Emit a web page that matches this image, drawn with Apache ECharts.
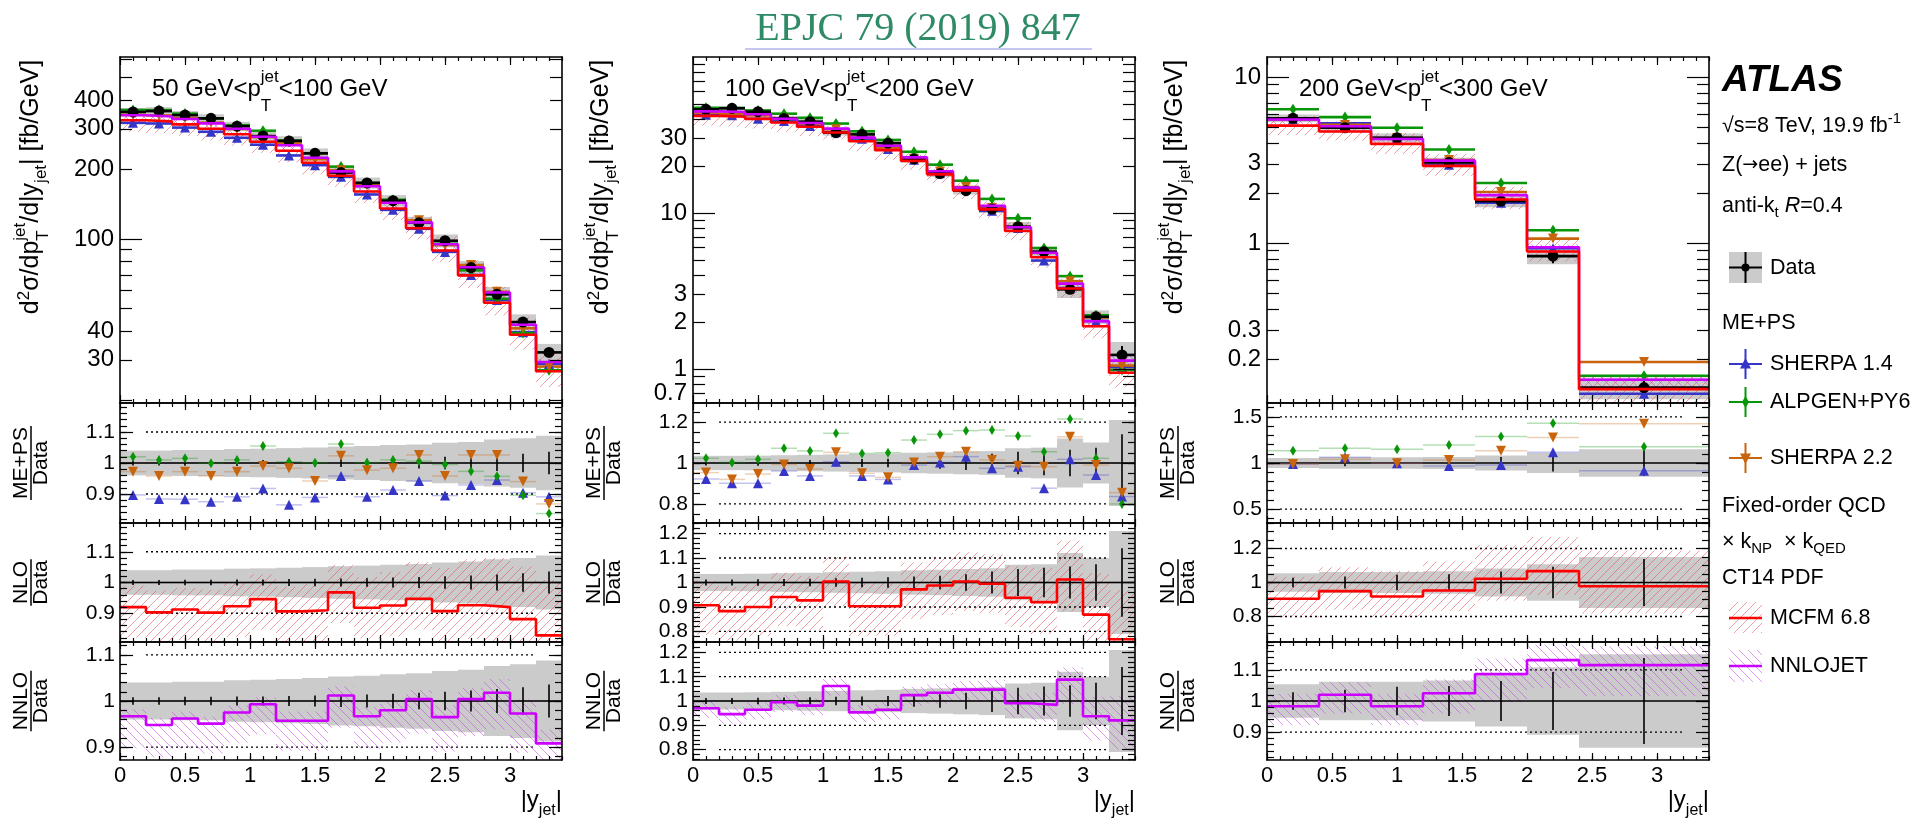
<!DOCTYPE html>
<html>
<head>
<meta charset="utf-8">
<title>Z(→ee) + jets: jet rapidity in bins of jet pT</title>
<script src="https://cdn.jsdelivr.net/npm/echarts@6.0.0/dist/echarts.min.js"></script>
<style>
  html, body { margin: 0; padding: 0; background: #fff; }
  #chart { width: 1917px; height: 820px; }
</style>
</head>
<body>
<div id="chart"></div>
<script>
// ---------------- binning in |y_jet| ----------------
const edgesFine = [0, 0.2, 0.4, 0.6, 0.8, 1.0, 1.2, 1.4, 1.6, 1.8, 2.0, 2.2, 2.4, 2.6, 2.8, 3.0, 3.2, 3.4];
const edgesWide = [0, 0.4, 0.8, 1.2, 1.6, 2.0, 2.4, 3.4];
const xTickLabels = [0, 0.5, 1, 1.5, 2, 2.5, 3];

// ---------------- 50 GeV < pT < 100 GeV ----------------
const a_data     = [355, 358, 344, 333, 308, 279, 266, 235, 194, 175, 146.5, 117.6, 98.3, 75.2, 57.6, 43.7, 32.3];
const a_sys      = [0.040, 0.040, 0.042, 0.042, 0.045, 0.046, 0.048, 0.050, 0.053, 0.055, 0.058, 0.060, 0.065, 0.068, 0.076, 0.080, 0.088];
const a_stat     = [0.008, 0.008, 0.009, 0.009, 0.010, 0.010, 0.011, 0.012, 0.013, 0.014, 0.016, 0.018, 0.020, 0.023, 0.026, 0.030, 0.036];
const a_sherpa14 = [0.897, 0.884, 0.883, 0.875, 0.891, 0.918, 0.865, 0.889, 0.958, 0.891, 0.913, 0.942, 0.895, 0.929, 0.945, 0.904, 0.891];
const a_alpgen   = [1.020, 1.010, 1.015, 0.999, 1.010, 1.055, 1.004, 1.001, 1.061, 1.001, 1.010, 1.006, 0.995, 0.973, 0.957, 0.896, 0.837];
const a_sherpa22 = [0.972, 0.958, 0.972, 0.958, 0.972, 0.990, 0.983, 0.942, 1.023, 0.977, 0.983, 1.026, 0.958, 1.026, 1.026, 0.940, 0.868];
const a_mcfm     = [0.920, 0.903, 0.912, 0.902, 0.923, 0.946, 0.906, 0.910, 0.968, 0.918, 0.925, 0.947, 0.907, 0.926, 0.920, 0.881, 0.828];
const a_mcfmUp   = [0.07, 0.07, 0.07, 0.075, 0.075, 0.08, 0.08, 0.085, 0.09, 0.10, 0.11, 0.12, 0.14, 0.15, 0.16, 0.17, 0.18];
const a_mcfmDn   = [0.10, 0.10, 0.10, 0.10, 0.10, 0.10, 0.10, 0.10, 0.10, 0.10, 0.10, 0.10, 0.10, 0.11, 0.11, 0.12, 0.12];
const a_nnlojet  = [0.967, 0.948, 0.962, 0.951, 0.975, 0.993, 0.957, 0.957, 1.012, 0.967, 0.980, 1.004, 0.965, 1.004, 1.018, 0.973, 0.908];
const a_nnloUp   = [0.015, 0.015, 0.015, 0.015, 0.015, 0.015, 0.02, 0.02, 0.02, 0.02, 0.02, 0.02, 0.025, 0.025, 0.03, 0.03, 0.03];
const a_nnloDn   = [0.07, 0.07, 0.065, 0.065, 0.065, 0.065, 0.065, 0.065, 0.07, 0.07, 0.07, 0.075, 0.075, 0.08, 0.08, 0.085, 0.09];
const a_topLabels = [30, 40, 100, 200, 300, 400];

// ---------------- 100 GeV < pT < 200 GeV ----------------
const b_data     = [46.2, 46.9, 44.6, 40.4, 38.5, 32.7, 31.9, 28.0, 22.2, 17.9, 13.9, 10.6, 8.17, 5.65, 3.24, 2.16, 1.23];
const b_sys      = [0.035, 0.035, 0.036, 0.038, 0.040, 0.042, 0.044, 0.046, 0.050, 0.052, 0.055, 0.058, 0.072, 0.075, 0.12, 0.10, 0.21];
const b_stat     = [0.012, 0.012, 0.013, 0.014, 0.015, 0.017, 0.019, 0.021, 0.024, 0.028, 0.034, 0.045, 0.055, 0.060, 0.065, 0.075, 0.14];
const b_sherpa14 = [0.922, 0.901, 0.901, 0.961, 0.937, 1.006, 0.937, 0.920, 0.990, 1.003, 1.031, 0.974, 0.982, 0.877, 1.018, 0.941, 0.836];
const b_alpgen   = [1.023, 1.003, 1.018, 1.072, 1.059, 1.145, 1.047, 1.050, 1.112, 1.140, 1.158, 1.161, 1.132, 1.055, 1.215, 1.023, 0.800];
const b_sherpa22 = [0.953, 0.920, 0.946, 0.993, 0.971, 1.052, 0.950, 0.930, 1.002, 1.031, 1.055, 1.015, 0.987, 0.982, 1.128, 0.990, 0.855];
const b_mcfm     = [0.907, 0.883, 0.900, 0.941, 0.927, 1.004, 0.903, 0.903, 0.972, 0.988, 1.004, 0.995, 0.938, 0.920, 1.012, 0.869, 0.768];
const b_mcfmUp   = [0.10, 0.10, 0.10, 0.10, 0.10, 0.10, 0.10, 0.10, 0.11, 0.11, 0.12, 0.12, 0.13, 0.14, 0.16, 0.17, 0.20];
const b_mcfmDn   = [0.12, 0.12, 0.12, 0.12, 0.12, 0.10, 0.12, 0.12, 0.12, 0.12, 0.12, 0.12, 0.12, 0.13, 0.13, 0.14, 0.15];
const b_nnlojet  = [0.970, 0.946, 0.964, 0.995, 0.981, 1.062, 0.953, 0.964, 1.024, 1.034, 1.047, 1.047, 0.991, 0.984, 1.088, 0.937, 0.920];
const b_nnloUp   = [0.03, 0.03, 0.03, 0.03, 0.03, 0.03, 0.03, 0.03, 0.035, 0.035, 0.035, 0.04, 0.04, 0.05, 0.05, 0.08, 0.10];
const b_nnloDn   = [0.04, 0.04, 0.04, 0.04, 0.04, 0.04, 0.04, 0.04, 0.045, 0.045, 0.05, 0.05, 0.06, 0.07, 0.10, 0.10, 0.12];
const b_topLabels = [0.7, 1, 2, 3, 10, 20, 30];

// ---------------- 200 GeV < pT < 300 GeV ----------------
const c_data     = [5.64, 4.95, 4.31, 3.06, 1.79, 0.835, 0.135];
const c_sys      = [0.054, 0.062, 0.062, 0.066, 0.082, 0.108, 0.150];
const c_stat     = [0.028, 0.036, 0.046, 0.048, 0.064, 0.093, 0.138];
const c_sherpa14 = [0.989, 1.062, 0.996, 0.967, 0.978, 1.116, 0.917];
const c_alpgen   = [1.134, 1.159, 1.149, 1.196, 1.286, 1.431, 1.177];
const c_sherpa22 = [0.989, 1.040, 0.996, 1.033, 1.134, 1.275, 1.424];
const c_mcfm     = [0.904, 0.949, 0.918, 0.953, 1.022, 1.067, 0.978];
const c_mcfmUp   = [0.13, 0.14, 0.15, 0.17, 0.20, 0.20, 0.21];
const c_mcfmDn   = [0.11, 0.11, 0.12, 0.12, 0.13, 0.14, 0.16];
const c_nnlojet  = [0.983, 1.020, 0.983, 1.025, 1.086, 1.131, 1.115];
const c_nnloUp   = [0.04, 0.04, 0.04, 0.045, 0.05, 0.05, 0.06];
const c_nnloDn   = [0.06, 0.06, 0.06, 0.065, 0.09, 0.09, 0.10];
const c_topLabels = [0.2, 0.3, 1, 2, 3, 10];

// ---------------- styling ----------------
const FAM = '"Liberation Sans", Arial, sans-serif';
const COL = {
  data: '#000000', band: '#cbcbcb',
  sherpa14: '#3535c8', alpgen: '#089608', sherpa22: '#c8640c',
  mcfm: '#ff0000', nnlo: '#cc00ff'
};

function hatch(color, dir) {
  const s = 9, cv = document.createElement('canvas');
  cv.width = s; cv.height = s;
  const g = cv.getContext('2d');
  g.strokeStyle = color; g.lineWidth = 1;
  g.beginPath();
  if (dir > 0) {           // "/" hatching
    g.moveTo(-1, s + 1); g.lineTo(s + 1, -1);
    g.moveTo(-2, 2); g.lineTo(2, -2);
    g.moveTo(s - 2, s + 2); g.lineTo(s + 2, s - 2);
  } else {                 // "\" hatching
    g.moveTo(-1, -1); g.lineTo(s + 1, s + 1);
    g.moveTo(s - 2, -2); g.lineTo(s + 2, 2);
    g.moveTo(-2, s - 2); g.lineTo(2, s + 2);
  }
  g.stroke();
  return { image: cv, repeat: 'repeat' };
}
const HATCH_MCFM = hatch('rgba(225,80,80,0.55)', 1);
const HATCH_NNLO = hatch('rgba(195,70,230,0.55)', -1);

// ---------------- panels ----------------
const panels = [
  { edges: edgesFine, data: a_data, sys: a_sys, stat: a_stat,
    sherpa14: a_sherpa14, alpgen: a_alpgen, sherpa22: a_sherpa22,
    mcfm: a_mcfm, mcfmUp: a_mcfmUp, mcfmDn: a_mcfmDn,
    nnlo: a_nnlojet, nnloUp: a_nnloUp, nnloDn: a_nnloDn,
    ptLo: '50', ptHi: '100',
    top: { min: 19.5, max: 614, labels: a_topLabels, long: [100],
           short: [20, 30, 40, 50, 60, 70, 80, 90, 200, 300, 400, 500, 600] },
    ratios: [ { min: 0.8065, max: 1.1935, labels: [0.9, 1, 1.1], step: 0.02 },
              { min: 0.8065, max: 1.1935, labels: [0.9, 1, 1.1], step: 0.02 },
              { min: 0.872, max: 1.128, labels: [0.9, 1, 1.1], step: 0.02 } ],
    left: 120, titleOff: 80, dotFrom: 0.2 },
  { edges: edgesFine, data: b_data, sys: b_sys, stat: b_stat,
    sherpa14: b_sherpa14, alpgen: b_alpgen, sherpa22: b_sherpa22,
    mcfm: b_mcfm, mcfmUp: b_mcfmUp, mcfmDn: b_mcfmDn,
    nnlo: b_nnlojet, nnloUp: b_nnloUp, nnloDn: b_nnloDn,
    ptLo: '100', ptHi: '200',
    top: { min: 0.605, max: 100, labels: b_topLabels, long: [1, 10],
           short: [0.7, 0.8, 0.9, 2, 3, 4, 5, 6, 7, 8, 9, 20, 30, 40, 50, 60, 70, 80, 90] },
    ratios: [ { min: 0.707, max: 1.293, labels: [0.8, 1, 1.2], step: 0.05 },
              { min: 0.757, max: 1.243, labels: [0.8, 0.9, 1, 1.1, 1.2], step: 0.02 },
              { min: 0.757, max: 1.243, labels: [0.8, 0.9, 1, 1.1, 1.2], step: 0.02 } ],
    left: 693, titleOff: 83, dotFrom: 0.2 },
  { edges: edgesWide, data: c_data, sys: c_sys, stat: c_stat,
    sherpa14: c_sherpa14, alpgen: c_alpgen, sherpa22: c_sherpa22,
    mcfm: c_mcfm, mcfmUp: c_mcfmUp, mcfmDn: c_mcfmDn,
    nnlo: c_nnlojet, nnloUp: c_nnloUp, nnloDn: c_nnloDn,
    ptLo: '200', ptHi: '300',
    top: { min: 0.109, max: 13.2, labels: c_topLabels, long: [1, 10],
           short: [0.2, 0.3, 0.4, 0.5, 0.6, 0.7, 0.8, 0.9, 2, 3, 4, 5, 6, 7, 8, 9] },
    ratios: [ { min: 0.35, max: 1.65, labels: [0.5, 1, 1.5], step: 0.1 },
              { min: 0.65, max: 1.35, labels: [0.8, 1, 1.2], step: 0.05 },
              { min: 0.811, max: 1.189, labels: [0.9, 1, 1.1], step: 0.02 } ],
    left: 1267, titleOff: 83, dotFrom: 0.1 }
];
const PAD_W = 442;
const ROW_TOP = [57, 403, 523, 642];
const ROW_H = [346, 120, 119, 118];

function steps(a, b, step) {
  const out = [];
  const k0 = Math.ceil(a / step - 1e-6), k1 = Math.floor(b / step + 1e-6);
  for (let k = k0; k <= k1; k++) out.push(+(k * step).toFixed(4));
  return out;
}
const xMajor = [0, 0.5, 1, 1.5, 2, 2.5, 3];
const xMinor = steps(0.1, 3.4, 0.1);
const fmtNum = v => String(+(+v).toPrecision(4));

// ---------------- axes ----------------
const grids = [], xAxes = [], yAxes = [];
function tickAxis(base, opt) {
  return Object.assign({}, base, {
    axisLine: { show: !!opt.line, onZero: false, lineStyle: { color: '#000', width: 1.6 } },
    axisTick: { show: true, inside: true, length: opt.len, customValues: opt.ticks,
                lineStyle: { color: '#000', width: 1.2 } },
    axisLabel: opt.labels ? {
      show: true, customValues: opt.labels, formatter: fmtNum, color: '#000',
      fontFamily: FAM, fontSize: opt.fontSize, margin: opt.margin, hideOverlap: false,
      showMinLabel: true, showMaxLabel: true
    } : { show: false },
    splitLine: { show: false }, splitArea: { show: false }, minorTick: { show: false },
    minorSplitLine: { show: false }, axisPointer: { show: false }, silent: true, z: 10
  });
}
panels.forEach((P, c) => {
  for (let r = 0; r < 4; r++) {
    const g = c * 4 + r;
    grids.push({ left: P.left, top: ROW_TOP[r], width: PAD_W, height: ROW_H[r], show: false,
                 containLabel: false, outerBoundsMode: 'none' });
    const isTop = r === 0, isBottom = r === 3;
    const xb = { gridIndex: g, type: 'value', min: 0, max: 3.4 };
    const xMaj = isTop ? 8 : 7, xMin = 4;
    xAxes.push(tickAxis(Object.assign({ position: 'bottom' }, xb),
      { line: true, len: xMaj, ticks: xMajor, labels: isBottom ? xTickLabels : null, fontSize: 22, margin: 5 }));
    xAxes.push(tickAxis(Object.assign({ position: 'bottom' }, xb), { len: xMin, ticks: xMinor }));
    xAxes.push(tickAxis(Object.assign({ position: 'top' }, xb), { line: true, len: xMaj, ticks: xMajor }));
    xAxes.push(tickAxis(Object.assign({ position: 'top' }, xb), { len: xMin, ticks: xMinor }));
    if (isTop) {
      const T = P.top;
      const yb = { gridIndex: g, type: 'log', logBase: 10, min: T.min, max: T.max };
      yAxes.push(tickAxis(Object.assign({ position: 'left' }, yb),
        { line: true, len: 22, ticks: T.long, labels: T.labels, fontSize: 24, margin: 6 }));
      yAxes.push(tickAxis(Object.assign({ position: 'left' }, yb), { len: 12, ticks: T.short }));
      yAxes.push(tickAxis(Object.assign({ position: 'right' }, yb), { line: true, len: 22, ticks: T.long }));
      yAxes.push(tickAxis(Object.assign({ position: 'right' }, yb), { len: 12, ticks: T.short }));
    } else {
      const R = P.ratios[r - 1];
      const yb = { gridIndex: g, type: 'value', min: R.min, max: R.max };
      const minor = steps(R.min, R.max, R.step);
      yAxes.push(tickAxis(Object.assign({ position: 'left' }, yb),
        { line: true, len: 13, ticks: R.labels, labels: R.labels, fontSize: 21, margin: 5 }));
      yAxes.push(tickAxis(Object.assign({ position: 'left' }, yb), { len: 7, ticks: minor }));
      yAxes.push(tickAxis(Object.assign({ position: 'right' }, yb), { line: true, len: 13, ticks: R.labels }));
      yAxes.push(tickAxis(Object.assign({ position: 'right' }, yb), { len: 7, ticks: minor }));
    }
  }
});

// ---------------- series helpers ----------------
function clipTo(rect, cs) {
  return echarts.graphic.clipRectByRect(rect, { x: cs.x, y: cs.y, width: cs.width, height: cs.height });
}
function on(g) { return { xAxisIndex: g * 4, yAxisIndex: g * 4 }; }
// rectangles [x0, x1, lo, hi]
function bands(g, rows, fill) {
  return Object.assign(on(g), {
    type: 'custom', clip: true, silent: true, animation: false,
    encode: { x: [0, 1], y: [2, 3] }, data: rows,
    renderItem(params, api) {
      const a = api.coord([api.value(0), api.value(3)]);
      const b = api.coord([api.value(1), api.value(2)]);
      const shape = clipTo({ x: a[0], y: a[1], width: b[0] - a[0], height: b[1] - a[1] }, params.coordSys);
      if (!shape) return null;
      return { type: 'rect', shape, style: { fill } };
    }
  });
}
// horizontal bin bars with vertical error bar [x0, x1, y, lo, hi]
function bars(g, rows, color, width, opacity, errWidth) {
  return Object.assign(on(g), {
    type: 'custom', clip: true, silent: true, animation: false,
    encode: { x: [0, 1], y: [2] }, data: rows,
    renderItem(params, api) {
      const x0 = api.value(0), x1 = api.value(1), y = api.value(2), lo = api.value(3), hi = api.value(4);
      const a = api.coord([x0, y]), b = api.coord([x1, y]);
      const kids = [{ type: 'line', shape: { x1: a[0], y1: a[1], x2: b[0], y2: b[1] },
                      style: { stroke: color, lineWidth: width, opacity } }];
      if (errWidth && hi > lo) {
        const xc = (x0 + x1) / 2, t = api.coord([xc, hi]), u = api.coord([xc, lo]);
        kids.push({ type: 'line', shape: { x1: t[0], y1: t[1], x2: u[0], y2: u[1] },
                    style: { stroke: color, lineWidth: errWidth } });
      }
      return { type: 'group', children: kids };
    }
  });
}
// dotted reference lines [x0, x1, y]
function dotted(g, rows) {
  return Object.assign(on(g), {
    type: 'custom', clip: true, silent: true, animation: false,
    encode: { x: [0, 1], y: [2] }, data: rows,
    renderItem(params, api) {
      const a = api.coord([api.value(0), api.value(2)]), b = api.coord([api.value(1), api.value(2)]);
      return { type: 'line', shape: { x1: a[0], y1: a[1], x2: b[0], y2: b[1] },
               style: { stroke: '#000', lineWidth: 1.3, lineDash: [2, 3] } };
    }
  });
}
function stepLine(g, edges, vals, color) {
  const pts = vals.map((v, i) => [edges[i], v]);
  pts.push([edges[edges.length - 1], vals[vals.length - 1]]);
  return Object.assign(on(g), {
    type: 'line', step: 'end', data: pts, symbol: 'none', silent: true, animation: false, clip: true,
    lineStyle: { color, width: 2.6 }
  });
}
function markers(g, pts, color, symbol, size, rotate) {
  return Object.assign(on(g), {
    type: 'scatter', data: pts, symbol, symbolSize: size, symbolRotate: rotate || 0,
    itemStyle: { color, opacity: 1 }, silent: true, animation: false, clip: true
  });
}

// ---------------- series ----------------
const series = [];
panels.forEach((P, c) => {
  const E = P.edges;
  const mid = i => (E[i] + E[i + 1]) / 2;
  const gT = c * 4, g1 = gT + 1, g2 = gT + 2, g3 = gT + 3;
  const mc = [
    { vals: P.sherpa14, color: COL.sherpa14, sym: 'triangle', sizeTop: 10, size: 10, rot: 0 },
    { vals: P.alpgen, color: COL.alpgen, sym: 'diamond', sizeTop: [7, 11], size: [6, 10], rot: 0 },
    { vals: P.sherpa22, color: COL.sherpa22, sym: 'triangle', sizeTop: 10, size: 10, rot: 180 }
  ];

  // main spectrum pad
  series.push(bands(gT, P.data.map((d, i) => [E[i], E[i + 1], d * (1 - P.sys[i]), d * (1 + P.sys[i])]), COL.band));
  series.push(bands(gT, P.data.map((d, i) => [E[i], E[i + 1], d * (P.mcfm[i] - P.mcfmDn[i]), d * (P.mcfm[i] + P.mcfmUp[i])]), HATCH_MCFM));
  series.push(bands(gT, P.data.map((d, i) => [E[i], E[i + 1], d * (P.nnlo[i] - P.nnloDn[i]), d * (P.nnlo[i] + P.nnloUp[i])]), HATCH_NNLO));
  series.push(stepLine(gT, E, P.data.map((d, i) => d * P.nnlo[i]), COL.nnlo));
  mc.forEach(m => series.push(bars(gT, P.data.map((d, i) => [E[i], E[i + 1], d * m.vals[i], 0, 0]), m.color, 2.6, 1, 0)));
  mc.forEach(m => series.push(markers(gT, P.data.map((d, i) => [mid(i), d * m.vals[i]]), m.color, m.sym, m.sizeTop, m.rot)));
  series.push(stepLine(gT, E, P.data.map((d, i) => d * P.mcfm[i]), COL.mcfm));
  series.push(bars(gT, P.data.map((d, i) => [E[i], E[i + 1], d, d * (1 - P.stat[i]), d * (1 + P.stat[i])]), '#000', 2.6, 1, 2));
  series.push(markers(gT, P.data.map((d, i) => [mid(i), d]), '#000', 'circle', 11));

  // ratio pads
  const unitBand = P.sys.map((s, i) => [E[i], E[i + 1], 1 - s, 1 + s]);
  const unitLine = P.stat.map((s, i) => [E[i], E[i + 1], 1, 1 - s, 1 + s]);
  const dots = r => P.ratios[r - 1].labels.filter(v => v !== 1).map(v => [P.dotFrom, 3.2, v]);

  // ME+PS / Data
  series.push(bands(g1, unitBand, COL.band));
  series.push(dotted(g1, dots(1)));
  series.push(bars(g1, unitLine, '#000', 1.6, 1, 1.6));
  mc.forEach(m => series.push(bars(g1, m.vals.map((v, i) => [E[i], E[i + 1], v, 0, 0]), m.color, 1.5, 0.3, 0)));
  mc.forEach(m => series.push(markers(g1, m.vals.map((v, i) => [mid(i), v]), m.color, m.sym, m.size, m.rot)));

  // NLO / Data
  series.push(bands(g2, unitBand, COL.band));
  series.push(dotted(g2, dots(2)));
  series.push(bands(g2, P.mcfm.map((v, i) => [E[i], E[i + 1], v - P.mcfmDn[i], v + P.mcfmUp[i]]), HATCH_MCFM));
  series.push(bars(g2, unitLine, '#000', 1.6, 1, 1.6));
  series.push(stepLine(g2, E, P.mcfm, COL.mcfm));

  // NNLO / Data
  series.push(bands(g3, unitBand, COL.band));
  series.push(dotted(g3, dots(3)));
  series.push(bands(g3, P.nnlo.map((v, i) => [E[i], E[i + 1], v - P.nnloDn[i], v + P.nnloUp[i]]), HATCH_NNLO));
  series.push(bars(g3, unitLine, '#000', 1.6, 1, 1.6));
  series.push(stepLine(g3, E, P.nnlo, COL.nnlo));
});

// ---------------- text helpers ----------------
const mctx = document.createElement('canvas').getContext('2d');
function fontOf(size, st, fam) { return (st ? st + ' ' : '') + size + 'px ' + (fam || FAM); }
function tw(t, size, st, fam) { mctx.font = fontOf(size, st, fam); return mctx.measureText(t).width; }
function textEl(x, y, t, size, st, align, fill, fam) {
  return { type: 'text', x, y, silent: true,
    style: { text: t, font: fontOf(size, st, fam), fill: fill || '#000',
             align: align || 'left', verticalAlign: 'middle',
             textAlign: align || 'left', textVerticalAlign: 'middle' } };
}
// pieces share a baseline at local y = 0; dy shifts sub/superscripts; hold stacks the next piece
function textRun(x, y, pieces, anchor, rotation) {
  const els = [];
  let cx = 0, held = 0;
  pieces.forEach(p => {
    const w = tw(p.t, p.s, p.st, p.fam);
    els.push(textEl(cx, (p.dy || 0) - 0.34 * p.s, p.t, p.s, p.st, 'left', '#000', p.fam));
    if (p.hold) held = w; else { cx += Math.max(w, held); held = 0; }
  });
  const shift = anchor === 'center' ? -cx / 2 : anchor === 'right' ? -cx : 0;
  els.forEach(e => { e.x += shift; });
  return { type: 'group', x, y, rotation: rotation || 0, silent: true, children: els };
}
function fraction(x, y, num, den, size) {
  const L = Math.max(tw(num, size), tw(den, size)) + 2;
  return { type: 'group', x, y, rotation: Math.PI / 2, silent: true, children: [
    textEl(0, -3 - 0.34 * size, num, size, '', 'center'),
    { type: 'line', shape: { x1: -L / 2, y1: 0, x2: L / 2, y2: 0 }, style: { stroke: '#000', lineWidth: 1.5 } },
    textEl(0, 2 + 0.72 * size - 0.34 * size, den, size, '', 'center')
  ] };
}

// ---------------- annotations ----------------
const graphics = [];
graphics.push(textEl(918, 29, 'EPJC 79 (2019) 847', 40, '', 'center', '#2f8a66',
                     '"Liberation Serif", "Times New Roman", serif'));
graphics.push({ type: 'rect', silent: true, shape: { x: 745, y: 48, width: 347, height: 2 }, style: { fill: '#c6c6f2' } });

const rowMid = [0, 463, 582.5, 701];
panels.forEach(P => {
  const right = P.left + PAD_W;
  graphics.push(textRun(P.left - P.titleOff, 187, [
    { t: 'd', s: 25 }, { t: '2', s: 17, dy: -10 }, { t: 'σ/dp', s: 25 },
    { t: 'jet', s: 17, dy: -14, hold: true }, { t: 'T', s: 17, dy: 9 },
    { t: '/d|y', s: 25 }, { t: 'jet', s: 17, dy: 7 }, { t: '| [fb/GeV]', s: 25 }
  ], 'center', Math.PI / 2));
  graphics.push(fraction(P.left - 89, rowMid[1], 'ME+PS', 'Data', 21));
  graphics.push(fraction(P.left - 89, rowMid[2], 'NLO', 'Data', 21));
  graphics.push(fraction(P.left - 89, rowMid[3], 'NNLO', 'Data', 21));
  graphics.push(textRun(P.left + 32, 98, [
    { t: P.ptLo + ' GeV<p', s: 24 }, { t: 'jet', s: 17, dy: -15, hold: true }, { t: 'T', s: 17, dy: 14 },
    { t: '<' + P.ptHi + ' GeV', s: 24 }
  ], 'left'));
  graphics.push(textRun(right, 809, [
    { t: '|y', s: 24 }, { t: 'jet', s: 16, dy: 7 }, { t: '|', s: 24 }
  ], 'right'));
});

// legend block
const LX = 1722, LS0 = 1729, LS1 = 1762, LSC = 1745.5, LT = 1770, LF = 21.5;
const ARROW_FAM = '"DejaVu Sans", sans-serif';
graphics.push(textRun(LX, 93, [{ t: 'ATLAS', s: 37, st: 'italic bold' }], 'left'));
graphics.push(textRun(LX, 133, [{ t: '√s=8 TeV, 19.9 fb', s: LF }, { t: '-1', s: 15, dy: -9 }], 'left'));
graphics.push(textRun(LX, 172, [{ t: 'Z(', s: LF }, { t: '→', s: 19, fam: ARROW_FAM }, { t: 'ee) + jets', s: LF }], 'left'));
graphics.push(textRun(LX, 213, [{ t: 'anti-k', s: LF }, { t: 't', s: 15, dy: 5 }, { t: ' ', s: LF },
                                { t: 'R', s: LF, st: 'italic' }, { t: '=0.4', s: LF }], 'left'));
// Data entry
graphics.push({ type: 'rect', silent: true, shape: { x: LS0, y: 252, width: LS1 - LS0, height: 31 }, style: { fill: COL.band } });
graphics.push({ type: 'line', silent: true, shape: { x1: LS0, y1: 267.5, x2: LS1, y2: 267.5 }, style: { stroke: '#000', lineWidth: 2 } });
graphics.push({ type: 'line', silent: true, shape: { x1: LSC, y1: 252, x2: LSC, y2: 283 }, style: { stroke: '#000', lineWidth: 2 } });
graphics.push({ type: 'circle', silent: true, shape: { cx: LSC, cy: 267.5, r: 4 }, style: { fill: '#000' } });
graphics.push(textEl(LT, 268, 'Data', LF));
graphics.push(textEl(LX, 323, 'ME+PS', LF));
function mcEntry(y, color, pts) {
  graphics.push({ type: 'line', silent: true, shape: { x1: LS0, y1: y, x2: LS1, y2: y }, style: { stroke: color, lineWidth: 2 } });
  graphics.push({ type: 'line', silent: true, shape: { x1: LSC, y1: y - 15, x2: LSC, y2: y + 15 }, style: { stroke: color, lineWidth: 2 } });
  graphics.push({ type: 'polygon', silent: true, shape: { points: pts.map(p => [LSC + p[0], y + p[1]]) }, style: { fill: color } });
}
mcEntry(364, COL.sherpa14, [[0, -6], [5.5, 4.5], [-5.5, 4.5]]);
graphics.push(textEl(LT, 364, 'SHERPA 1.4', LF));
mcEntry(402, COL.alpgen, [[0, -6], [3.5, 0], [0, 6], [-3.5, 0]]);
graphics.push(textEl(LT, 402, 'ALPGEN+PY6', LF));
mcEntry(458, COL.sherpa22, [[0, 6], [5.5, -4.5], [-5.5, -4.5]]);
graphics.push(textEl(LT, 458, 'SHERPA 2.2', LF));
graphics.push(textEl(LX, 506, 'Fixed-order QCD', LF));
graphics.push(textRun(LX, 549, [{ t: '× k', s: LF }, { t: 'NP', s: 15, dy: 5 }, { t: '  × k', s: LF }, { t: 'QED', s: 15, dy: 5 }], 'left'));
graphics.push(textEl(LX, 578, 'CT14 PDF', LF));
graphics.push({ type: 'rect', silent: true, shape: { x: LS0, y: 602, width: LS1 - LS0, height: 31 }, style: { fill: HATCH_MCFM } });
graphics.push({ type: 'line', silent: true, shape: { x1: LS0, y1: 618, x2: LS1, y2: 618 }, style: { stroke: COL.mcfm, lineWidth: 2.6 } });
graphics.push(textEl(LT, 618, 'MCFM 6.8', LF));
graphics.push({ type: 'rect', silent: true, shape: { x: LS0, y: 650, width: LS1 - LS0, height: 32 }, style: { fill: HATCH_NNLO } });
graphics.push({ type: 'line', silent: true, shape: { x1: LS0, y1: 666, x2: LS1, y2: 666 }, style: { stroke: COL.nnlo, lineWidth: 2.6 } });
graphics.push(textEl(LT, 666, 'NNLOJET', LF));

// ---------------- chart ----------------
const chart = echarts.init(document.getElementById('chart'), null, { renderer: 'canvas', width: 1917, height: 820 });
chart.setOption({
  animation: false,
  backgroundColor: '#ffffff',
  textStyle: { fontFamily: FAM },
  grid: grids,
  xAxis: xAxes,
  yAxis: yAxes,
  series: series,
  graphic: { elements: graphics }
});
</script>
</body>
</html>
